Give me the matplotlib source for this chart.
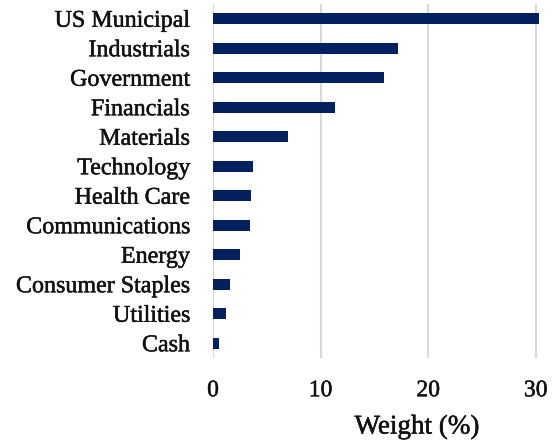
import matplotlib
matplotlib.use("Agg")
import matplotlib.pyplot as plt
import matplotlib.patheffects as pe

categories = ["US Municipal", "Industrials", "Government", "Financials", "Materials",
              "Technology", "Health Care", "Communications", "Energy",
              "Consumer Staples", "Utilities", "Cash"]
weights = [30.3, 17.2, 15.9, 11.3, 7.0, 3.75, 3.55, 3.45, 2.5, 1.6, 1.2, 0.6]
xticks = [0, 10, 20, 30]

plt.rcParams['font.family'] = ['Liberation Serif', 'DejaVu Serif']

W, H = 554, 440
fig = plt.figure(figsize=(W/100, H/100), dpi=100)
left, right, top, bottom = 213, 540, 4, 358
ax = fig.add_axes([left/W, 1-bottom/H, (right-left)/W, (bottom-top)/H])

y = list(range(len(categories)))
ax.barh(y, weights, height=0.36, color="#03215f", zorder=3)
ax.set_ylim(len(categories)-0.5, -0.5)
ax.set_xlim(0, 30.4)
ax.set_yticks(y)
ax.set_yticklabels(categories, fontsize=17.3)
ax.set_xticks(xticks)
ax.set_xticklabels([str(t) for t in xticks], fontsize=17)
ax.tick_params(axis='y', length=0, pad=16.5)
ax.tick_params(axis='x', length=0, pad=16)
ax.grid(axis='x', color="#d9d9d9", linewidth=1.5, zorder=0)
for s in ax.spines.values():
    s.set_visible(False)
lab = fig.text(417/W, 1-427/H, "Weight (%)", ha='center', va='center', fontsize=19.5)

heavy = [pe.Stroke(linewidth=0.35, foreground="#111111"), pe.Normal()]
for t in ax.get_yticklabels() + ax.get_xticklabels() + [lab]:
    t.set_color("#111111")
    t.set_path_effects(heavy)
fig.savefig("out.png", dpi=100)
